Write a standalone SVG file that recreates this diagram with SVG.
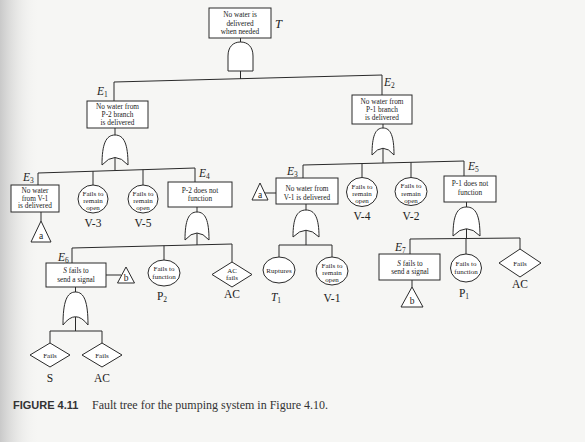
<svg xmlns="http://www.w3.org/2000/svg" width="585" height="442" viewBox="0 0 585 442">
<defs>
<linearGradient id="edge" x1="0" y1="0" x2="1" y2="0">
<stop offset="0" stop-color="#c9c9c9"/>
<stop offset="1" stop-color="#f6f6f4" stop-opacity="0"/>
</linearGradient>
</defs>
<style>
.ln{stroke:#2a2a2a;stroke-width:1;fill:none}
.sh{fill:#fff;stroke:#2a2a2a;stroke-width:1}
.t{font-family:"Liberation Serif","Times New Roman",serif;font-size:7.3px;fill:#222;text-anchor:middle}
.tc{font-family:"Liberation Serif","Times New Roman",serif;font-size:7px;fill:#222;text-anchor:middle}
.lb{font-family:"Liberation Serif","Times New Roman",serif;font-size:11.5px;fill:#222;text-anchor:middle}
.ev{font-family:"Liberation Serif","Times New Roman",serif;font-size:11.5px;font-style:italic;fill:#222}
.sub{font-size:7.5px;font-style:normal}
</style>
<rect width="585" height="442" fill="#f6f6f4"/>
<rect width="40" height="442" fill="url(#edge)"/>

<g id="connectors" class="ln">
<line x1="240.5" y1="38" x2="240.5" y2="42"/>
<line x1="240.5" y1="71" x2="240.5" y2="79"/>
<line x1="114" y1="82" x2="382" y2="75"/>
<line x1="114" y1="82" x2="114" y2="101"/>
<line x1="382" y1="75" x2="382" y2="95"/>
<line x1="115" y1="128" x2="115" y2="135"/>
<line x1="115" y1="157.5" x2="115" y2="170.5"/>
<line x1="38" y1="173" x2="195" y2="168"/>
<line x1="38" y1="173" x2="38" y2="185"/>
<line x1="93" y1="171.2" x2="93" y2="185"/>
<line x1="143" y1="169.7" x2="143" y2="185"/>
<line x1="195" y1="168" x2="195" y2="182"/>
<line x1="41" y1="212" x2="41" y2="221"/>
<line x1="197" y1="207" x2="197" y2="212"/>
<line x1="197" y1="233" x2="197" y2="245"/>
<line x1="72" y1="248" x2="232" y2="244"/>
<line x1="72" y1="248" x2="72" y2="263"/>
<line x1="164" y1="245.7" x2="164" y2="260"/>
<line x1="232" y1="244" x2="232" y2="262"/>
<line x1="106" y1="275" x2="121" y2="275"/>
<line x1="75.5" y1="287" x2="75.5" y2="292"/>
<line x1="75.5" y1="316.8" x2="75.5" y2="331"/>
<line x1="50" y1="331" x2="102" y2="331"/>
<line x1="50" y1="331" x2="50" y2="343"/>
<line x1="102" y1="331" x2="102" y2="343"/>
<line x1="383" y1="124" x2="383" y2="128"/>
<line x1="383" y1="148.3" x2="383" y2="163"/>
<line x1="303" y1="165" x2="464" y2="161"/>
<line x1="303" y1="165" x2="303" y2="178"/>
<line x1="362" y1="163.5" x2="362" y2="177.5"/>
<line x1="411" y1="162.3" x2="411" y2="177.5"/>
<line x1="464" y1="161" x2="464" y2="176"/>
<line x1="264.5" y1="193" x2="276" y2="193"/>
<line x1="306" y1="204" x2="306" y2="210"/>
<line x1="306" y1="230.3" x2="306" y2="245"/>
<line x1="279" y1="245" x2="332" y2="245"/>
<line x1="279" y1="245" x2="279" y2="257"/>
<line x1="332" y1="245" x2="332" y2="257"/>
<line x1="466.5" y1="202" x2="466.5" y2="207"/>
<line x1="466.5" y1="228.8" x2="466.5" y2="238.5"/>
<line x1="410" y1="239" x2="520" y2="238"/>
<line x1="410" y1="239" x2="410" y2="254"/>
<line x1="466" y1="238.5" x2="466" y2="254"/>
<line x1="520" y1="238" x2="520" y2="249"/>
<line x1="412" y1="280" x2="412" y2="287"/>
</g>

<g id="T">
<rect class="sh" x="209" y="8" width="62" height="30"/>
<text class="t" x="240" y="17">No water is</text>
<text class="t" x="240" y="25.5">delivered</text>
<text class="t" x="240" y="34">when needed</text>
<text class="ev" x="275" y="28" style="font-size:12.5px">T</text>
</g>
<g id="gate-T"><path class="sh" d="M228,71 L228,56 C228,47 233,42 240.5,42 C248,42 253,47 253,56 L253,71 Z"/></g>

<g id="E1">
<rect class="sh" x="87" y="101" width="61" height="27"/>
<text class="t" x="117.5" y="109">No water from</text>
<text class="t" x="117.5" y="116.8">P-2 branch</text>
<text class="t" x="117.5" y="124.6">is delivered</text>
<text class="ev" x="97" y="95">E<tspan class="sub" dy="2">1</tspan></text>
</g>
<g id="gate-E1"><path class="sh" d="M102,165 C102,144 105.9,135 115,135 C124.1,135 128,144 128,165 Q115,150 102,165 Z"/></g>

<g id="E3-left">
<rect class="sh" x="11" y="185" width="48" height="27"/>
<text class="t" x="35" y="192.8">No water</text>
<text class="t" x="35" y="200.6">from V-1</text>
<text class="t" x="35" y="208.4">is delivered</text>
<text class="ev" x="23" y="181">E<tspan class="sub" dy="2">3</tspan></text>
</g>
<g id="tri-a-left">
<path class="sh" d="M41,221 L51,242 L31,242 Z"/>
<text class="lb" x="41" y="239" style="font-size:9.5px">a</text>
</g>

<g id="V-3">
<ellipse class="sh" cx="93" cy="199" rx="15" ry="14"/>
<text class="tc" x="93" y="195.5">Fails to</text>
<text class="tc" x="93" y="203">remain</text>
<text class="tc" x="93" y="210">open</text>
<text class="lb" x="93" y="227">V-3</text>
</g>
<g id="V-5">
<ellipse class="sh" cx="143" cy="199" rx="15" ry="14"/>
<text class="tc" x="143" y="195.5">Fails to</text>
<text class="tc" x="143" y="203">remain</text>
<text class="tc" x="143" y="210">open</text>
<text class="lb" x="143" y="227">V-5</text>
</g>

<g id="E4">
<rect class="sh" x="168" y="182" width="64" height="25"/>
<text class="t" x="200" y="192.8">P-2 does not</text>
<text class="t" x="200" y="200.8">function</text>
<text class="ev" x="199" y="177">E<tspan class="sub" dy="2">4</tspan></text>
</g>
<g id="gate-E4"><path class="sh" d="M185,240 C185,220.4 188.6,212 197,212 C205.4,212 209,220.4 209,240 Q197,226 185,240 Z"/></g>

<g id="E6">
<rect class="sh" x="46" y="263" width="60" height="24"/>
<text class="t" x="76" y="273"><tspan font-style="italic">S</tspan> fails to</text>
<text class="t" x="76" y="282">send a signal</text>
<text class="ev" x="58" y="261">E<tspan class="sub" dy="2">6</tspan></text>
</g>
<g id="tri-b-left">
<path class="sh" d="M126,267 L134.5,283 L117.5,283 Z"/>
<text class="lb" x="126" y="281" style="font-size:9.5px">b</text>
</g>
<g id="gate-E6"><path class="sh" d="M63,325 C63,301.9 66.75,292 75.5,292 C84.25,292 88,301.9 88,325 Q75.5,308.5 63,325 Z"/></g>

<g id="S">
<path class="sh" d="M50,343 L70,355 L50,367 L30,355 Z"/>
<text class="tc" x="50" y="357.5">Fails</text>
<text class="lb" x="50" y="382">S</text>
</g>
<g id="AC-E6">
<path class="sh" d="M102,343 L122,355 L102,367 L82,355 Z"/>
<text class="tc" x="102" y="357.5">Fails</text>
<text class="lb" x="102" y="382">AC</text>
</g>

<g id="P2">
<ellipse class="sh" cx="164" cy="273" rx="16" ry="13"/>
<text class="tc" x="164" y="271">Fails to</text>
<text class="tc" x="164" y="279">function</text>
<text class="lb" x="162" y="300">P<tspan class="sub" dy="2">2</tspan></text>
</g>
<g id="AC-E4">
<path class="sh" d="M232,262 L252,274.5 L232,287 L212,274.5 Z"/>
<text class="tc" x="232" y="272.5">AC</text>
<text class="tc" x="232" y="280">fails</text>
<text class="lb" x="232" y="298">AC</text>
</g>

<g id="E2">
<rect class="sh" x="352" y="95" width="60" height="29"/>
<text class="t" x="382" y="103.5">No water from</text>
<text class="t" x="382" y="111.5">P-1 branch</text>
<text class="t" x="382" y="119.5">is delivered</text>
<text class="ev" x="384" y="86">E<tspan class="sub" dy="2">2</tspan></text>
</g>
<g id="gate-E2"><path class="sh" d="M372,155 C372,136.1 375.3,128 383,128 C390.7,128 394,136.1 394,155 Q383,141.5 372,155 Z"/></g>

<g id="E3-right">
<rect class="sh" x="276" y="178" width="62" height="26"/>
<text class="t" x="307" y="190.5">No water from</text>
<text class="t" x="307" y="199.5">V-1 is delivered</text>
<text class="ev" x="287" y="175">E<tspan class="sub" dy="2">3</tspan></text>
</g>
<g id="tri-a-right">
<path class="sh" d="M260,183 L268,200 L252,200 Z"/>
<text class="lb" x="260" y="198" style="font-size:9.5px">a</text>
</g>
<g id="gate-E3"><path class="sh" d="M293,237 C293,218.1 296.9,210 306,210 C315.1,210 319,218.1 319,237 Q306,223.5 293,237 Z"/></g>

<g id="T1">
<ellipse class="sh" cx="279" cy="270" rx="16" ry="13"/>
<text class="tc" x="279" y="272.5">Ruptures</text>
<text class="ev" x="276" y="301" text-anchor="middle">T<tspan class="sub" dy="2">1</tspan></text>
</g>
<g id="V-1">
<ellipse class="sh" cx="332" cy="271" rx="16" ry="14"/>
<text class="tc" x="332" y="267.5">Fails to</text>
<text class="tc" x="332" y="275">remain</text>
<text class="tc" x="332" y="282">open</text>
<text class="lb" x="332" y="302">V-1</text>
</g>

<g id="V-4">
<ellipse class="sh" cx="362" cy="192" rx="15.5" ry="14.5"/>
<text class="tc" x="362" y="188.5">Fails to</text>
<text class="tc" x="362" y="196">remain</text>
<text class="tc" x="362" y="203">open</text>
<text class="lb" x="362" y="220">V-4</text>
</g>
<g id="V-2">
<ellipse class="sh" cx="411" cy="191.5" rx="16" ry="14"/>
<text class="tc" x="411" y="188">Fails to</text>
<text class="tc" x="411" y="195.5">remain</text>
<text class="tc" x="411" y="202.5">open</text>
<text class="lb" x="411" y="220">V-2</text>
</g>

<g id="E5">
<rect class="sh" x="444" y="176" width="52" height="26"/>
<text class="t" x="470" y="186">P-1 does not</text>
<text class="t" x="470" y="194.5">function</text>
<text class="ev" x="468" y="170">E<tspan class="sub" dy="2">5</tspan></text>
</g>
<g id="gate-E5"><path class="sh" d="M453,236 C453,215.7 457,207 466.5,207 C476,207 480,215.7 480,236 Q466.5,221.5 453,236 Z"/></g>

<g id="E7">
<rect class="sh" x="379" y="254" width="61" height="26"/>
<text class="t" x="410" y="265.5"><tspan font-style="italic">S</tspan> fails to</text>
<text class="t" x="410" y="274">send a signal</text>
<text class="ev" x="395" y="251">E<tspan class="sub" dy="2">7</tspan></text>
</g>
<g id="tri-b-right">
<path class="sh" d="M412,287 L423,307 L401,307 Z"/>
<text class="lb" x="412" y="304" style="font-size:9.5px">b</text>
</g>
<g id="P1">
<ellipse class="sh" cx="466" cy="268" rx="15.5" ry="14"/>
<text class="tc" x="466" y="266">Fails to</text>
<text class="tc" x="466" y="274">function</text>
<text class="lb" x="464" y="297">P<tspan class="sub" dy="2">1</tspan></text>
</g>
<g id="AC-E5">
<path class="sh" d="M520,249 L541,263 L520,277 L499,263 Z"/>
<text class="tc" x="520" y="265.5">Fails</text>
<text class="lb" x="520" y="288">AC</text>
</g>

<g id="caption">
<text x="13" y="409" style="font-family:'Liberation Sans',Arial,sans-serif;font-size:11px;font-weight:bold;fill:#333">FIGURE 4.11</text>
<text x="92" y="409" style="font-family:'Liberation Serif','Times New Roman',serif;font-size:12px;fill:#333">Fault tree for the pumping system in Figure 4.10.</text>
</g>
</svg>
